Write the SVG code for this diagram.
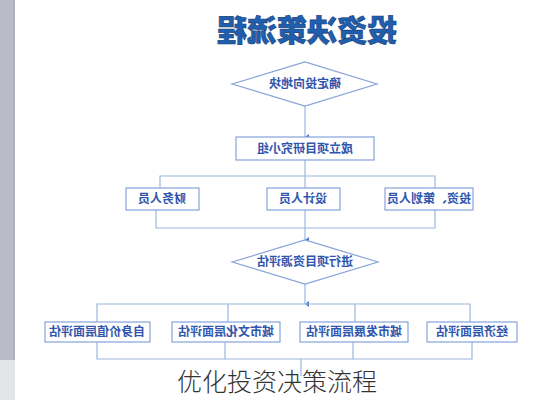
<svg xmlns="http://www.w3.org/2000/svg" width="552" height="400" viewBox="0 0 552 400">
<defs>
<style>
.ln{fill:none;stroke:#9cb6e2;stroke-width:1.2}
.bx{fill:#fff;stroke:#86a3da;stroke-width:1.2}
.t{font-family:"Noto Sans CJK SC","Noto Sans CJK TC",sans-serif;font-size:12px;font-weight:700;fill:#2f55ad;text-anchor:middle}
.title{font-family:"Noto Sans CJK SC",sans-serif;font-size:30px;font-weight:900;fill:#1f5fae;text-anchor:middle;stroke:#173d7a;stroke-width:0.6}
.cap{font-family:"Noto Sans CJK SC",sans-serif;font-size:25px;font-weight:300;fill:#333;text-anchor:middle}
</style>
<marker id="ah" markerWidth="6" markerHeight="6" refX="3" refY="5" orient="auto-start-reverse" markerUnits="userSpaceOnUse">
<path d="M0,1 L3,5 L6,1 z" fill="#4a74c8"/>
</marker>
</defs>
<rect x="0" y="0" width="552" height="400" fill="#fff"/>
<rect x="0" y="0" width="13" height="360" fill="#b9bcc7"/>
<rect x="13" y="0" width="2" height="360" fill="#adb0ba"/>
<rect x="0" y="360" width="15" height="40" fill="#e3e4e8"/>

<g id="title"><text class="title" x="-307" y="41" transform="scale(-1,1)">投资决策流程</text></g>

<g id="connectors">
<line class="ln" x1="305" y1="106" x2="305" y2="137" marker-end="url(#ah)"/>
<line class="ln" x1="305" y1="160" x2="305" y2="176"/>
<polyline class="ln" points="160,188 160,176 435,176 435,188"/>
<line class="ln" x1="305" y1="176" x2="305" y2="188"/>
<polyline class="ln" points="156,210 156,228 435,228 435,210"/>
<line class="ln" x1="305" y1="210" x2="305" y2="228"/>
<line class="ln" x1="305" y1="228" x2="305" y2="240" marker-end="url(#ah)"/>
<line class="ln" x1="305" y1="284" x2="305" y2="304" marker-end="url(#ah)"/>
<polyline class="ln" points="97,322 97,304 470,304 470,322"/>
<line class="ln" x1="228" y1="304" x2="228" y2="322"/>
<line class="ln" x1="355" y1="304" x2="355" y2="322"/>
<polyline class="ln" points="97,342 97,359 472,359 472,342"/>
<line class="ln" x1="225" y1="342" x2="225" y2="359"/>
<line class="ln" x1="353" y1="342" x2="353" y2="359"/>
<line class="ln" x1="301" y1="359" x2="301" y2="376"/>
</g>

<g id="d1"><polygon class="bx" points="232,84 305,62 377,84 305,106"/><text class="t" x="-305" y="88" transform="scale(-1,1)">确定投向地块</text></g>
<g id="b2"><rect class="bx" x="236" y="137" width="138" height="23"/><text class="t" x="-305" y="153" transform="scale(-1,1)">成立项目研究小组</text></g>
<g id="b3a"><rect class="bx" x="126" y="188" width="73" height="22"/><text class="t" x="-162" y="203" transform="scale(-1,1)">财务人员</text></g>
<g id="b3b"><rect class="bx" x="267" y="188" width="73" height="22"/><text class="t" x="-303" y="203" transform="scale(-1,1)">设计人员</text></g>
<g id="b3c"><rect class="bx" x="385" y="188" width="88" height="22"/><text class="t" x="-429" y="203" transform="scale(-1,1)">投资、策划人员</text></g>
<g id="d2"><polygon class="bx" points="232,262 305,240 378,262 305,284"/><text class="t" x="-305" y="266" transform="scale(-1,1)">进行项目资源评估</text></g>
<g id="b4a"><rect class="bx" x="45" y="322" width="105" height="20"/><text class="t" x="-97" y="336" transform="scale(-1,1)">自身价值层面评估</text></g>
<g id="b4b"><rect class="bx" x="172" y="322" width="108" height="20"/><text class="t" x="-226" y="336" transform="scale(-1,1)">城市文化层面评估</text></g>
<g id="b4c"><rect class="bx" x="300" y="322" width="108" height="20"/><text class="t" x="-354" y="336" transform="scale(-1,1)">城市发展层面评估</text></g>
<g id="b4d"><rect class="bx" x="427" y="322" width="90" height="20"/><text class="t" x="-472" y="336" transform="scale(-1,1)">经济层面评估</text></g>

<text class="cap" x="277" y="391">优化投资决策流程</text>
</svg>
